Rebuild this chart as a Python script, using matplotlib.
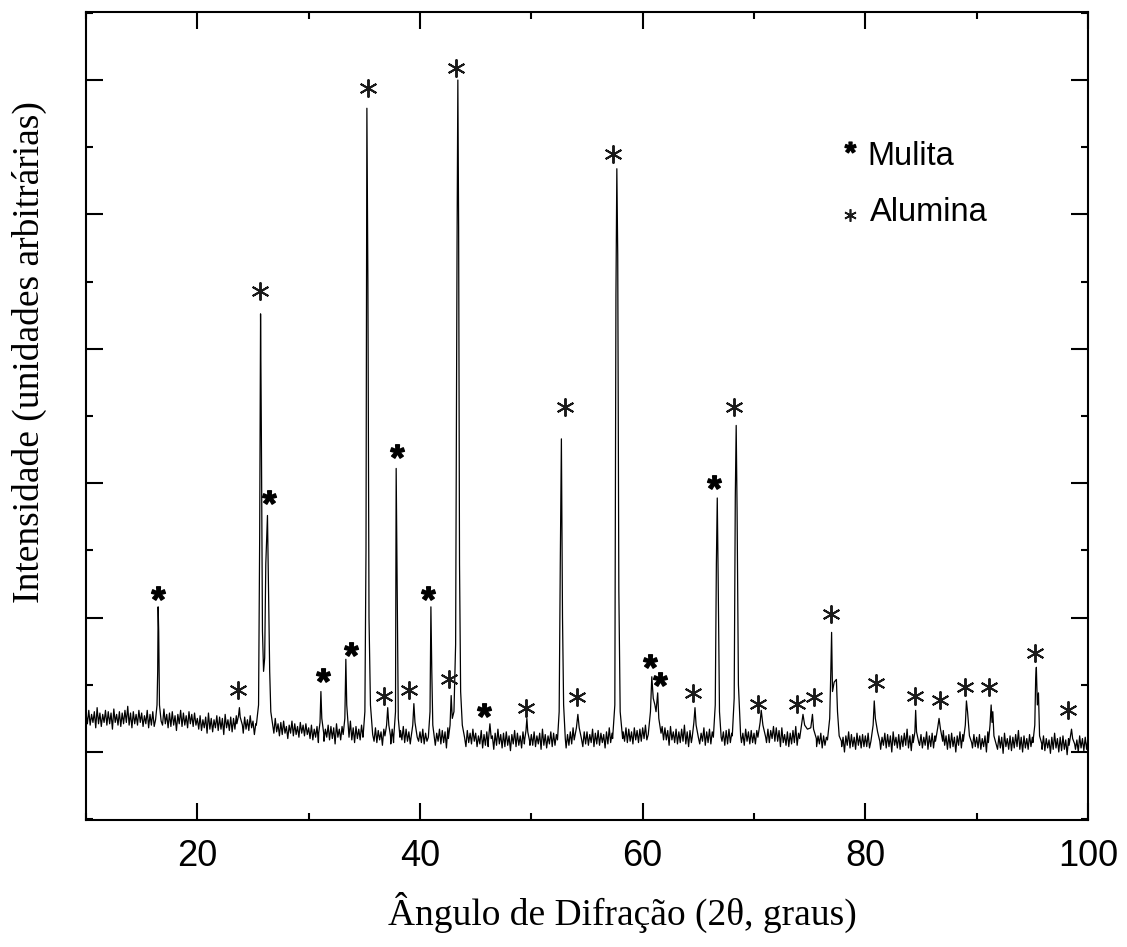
import numpy as np
import matplotlib
matplotlib.use("Agg")
import matplotlib.pyplot as plt
from matplotlib import font_manager
from matplotlib.ticker import MultipleLocator

# background counts, read as upper/lower envelope of the noise band
# upper points at 10.000 + 0.25*k, lower points at 10.125 + 0.25*k (2theta)
bg_upper = [
    .29, .31, .28, .30, .33, .29, .28, .31, .30, .29, .32, .28, .30, .29, .31, .34, .29, .30, .28, .31,
    .29, .27, .31, .28, .30, .28, .27, .29, .32, .28, .29, .30, .27, .28, .31, .29, .27, .30, .28, .29,
    .25, .27, .24, .26, .29, .25, .24, .27, .26, .25, .28, .24, .26, .25, .27, .30, .25, .26, .24, .27,
    .23, .21, .25, .22, .24, .22, .20, .22, .25, .21, .22, .23, .19, .20, .23, .21, .19, .22, .20, .21,
    .18, .20, .17, .19, .22, .18, .17, .20, .19, .18, .21, .17, .19, .18, .20, .23, .18, .19, .17, .20,
    .17, .15, .19, .16, .18, .16, .15, .17, .20, .16, .17, .18, .15, .16, .19, .17, .15, .18, .16, .17,
    .15, .17, .14, .16, .19, .15, .14, .17, .16, .15, .18, .14, .16, .15, .17, .20, .15, .16, .14, .17,
    .14, .12, .16, .13, .15, .13, .12, .14, .17, .13, .14, .15, .12, .13, .16, .14, .12, .15, .13, .14,
    .13, .15, .12, .14, .17, .13, .12, .15, .14, .13, .16, .12, .14, .13, .15, .18, .13, .14, .12, .15,
    .15, .13, .17, .14, .16, .14, .13, .15, .18, .14, .16, .17, .14, .15, .18, .17, .15, .18, .16, .17,
    .18, .20, .17, .19, .22, .18, .17, .19, .18, .16, .19, .15, .17, .15, .17, .20, .15, .16, .14, .17,
    .16, .14, .18, .15, .17, .15, .14, .16, .19, .15, .16, .17, .14, .15, .18, .16, .14, .17, .15, .16,
    .14, .16, .13, .15, .18, .17, .16, .19, .18, .16, .18, .13, .15, .14, .16, .19, .14, .15, .13, .16,
    .15, .14, .15, .12, .14, .12, .11, .13, .16, .12, .13, .14, .11, .12, .15, .13, .11, .14, .12, .13,
    .12, .14, .11, .13, .16, .12, .11, .14, .13, .12, .15, .11, .13, .12, .14, .17, .12, .13, .11, .14,
    .13, .11, .15, .12, .14, .12, .11, .13, .16, .12, .13, .14, .11, .12, .15, .13, .11, .14, .12, .13,
    .11, .13, .10, .12, .15, .11, .10, .13, .12, .11, .14, .10, .12, .11, .13, .16, .11, .12, .10, .13,
    .11, .09, .13, .10, .12, .10, .09, .11, .14, .10, .11, .12, .09, .10, .13, .11, .09, .12, .10, .11,
    .10,
]
bg_lower = [
    .21, .20, .22, .18, .21, .19, .22, .20, .21, .17, .22, .20, .19, .21, .22, .20, .18, .21, .20, .22,
    .19, .21, .18, .20, .19, .21, .17, .20, .21, .18, .19, .20, .16, .21, .19, .20, .18, .21, .19, .20,
    .17, .16, .18, .14, .17, .15, .18, .16, .17, .13, .18, .16, .15, .17, .18, .16, .14, .17, .16, .18,
    .13, .15, .12, .14, .13, .15, .11, .14, .15, .12, .13, .14, .10, .14, .12, .13, .11, .14, .12, .13,
    .10, .09, .11, .07, .10, .08, .11, .09, .10, .06, .11, .09, .08, .10, .11, .09, .07, .10, .09, .11,
    .07, .09, .06, .08, .07, .09, .05, .08, .09, .06, .07, .08, .04, .09, .07, .08, .06, .09, .07, .08,
    .07, .06, .08, .04, .07, .05, .08, .06, .07, .03, .08, .06, .05, .07, .08, .06, .04, .07, .06, .08,
    .04, .06, .03, .05, .04, .06, .02, .05, .06, .03, .04, .05, .01, .06, .04, .05, .03, .06, .04, .05,
    .05, .04, .06, .02, .05, .03, .06, .04, .05, .01, .06, .04, .03, .05, .06, .04, .02, .05, .04, .06,
    .05, .07, .04, .06, .05, .07, .03, .06, .07, .05, .06, .07, .04, .08, .07, .08, .06, .09, .07, .08,
    .10, .09, .11, .07, .10, .08, .11, .09, .09, .05, .09, .07, .06, .07, .08, .06, .04, .07, .06, .08,
    .06, .08, .05, .07, .06, .08, .04, .07, .08, .05, .06, .07, .03, .08, .06, .07, .05, .08, .06, .07,
    .06, .05, .07, .03, .07, .07, .10, .08, .08, .04, .07, .05, .04, .06, .07, .05, .03, .06, .05, .07,
    .05, .07, .04, .06, .03, .05, .01, .04, .05, .02, .03, .04, .00, .05, .03, .04, .02, .05, .03, .04,
    .04, .03, .05, .01, .04, .02, .05, .03, .04, .00, .05, .03, .02, .04, .05, .03, .01, .04, .03, .05,
    .03, .05, .02, .04, .03, .05, .01, .04, .05, .02, .03, .04, .00, .05, .03, .04, .02, .05, .03, .04,
    .03, .02, .04, .00, .03, .01, .04, .02, .03, -.01, .04, .02, .01, .03, .04, .02, .00, .03, .02, .04,
    .01, .03, .00, .02, .01, .03, -.01, .02, .03, .00, .01, .02, -.02, .03, .01, .02, .00, .03, .01, .02,
]

# reflection profiles: (2theta, intensity) vertices of each peak
peaks = [
    [(16.25, .24), (16.38, .35), (16.44, .60), (16.48, 1.08), (16.53, .90), (16.60, .35), (16.75, .23)],
    [(23.55, .21), (23.70, .27), (23.78, .33), (23.85, .26), (24.05, .20)],
    [(25.30, .20), (25.50, .35), (25.60, 1.60), (25.68, 3.26), (25.75, 2.40), (25.85, .90), (25.95, .60),
     (26.05, .70), (26.15, 1.40), (26.30, 1.76), (26.40, 1.20), (26.50, .60), (26.60, .30), (26.80, .18)],
    [(30.90, .14), (31.02, .22), (31.10, .45), (31.18, .25), (31.35, .14)],
    [(33.10, .13), (33.25, .25), (33.34, .69), (33.42, .35), (33.60, .14)],
    [(34.90, .13), (35.05, .30), (35.15, 1.50), (35.23, 4.79), (35.32, 3.50), (35.42, 1.00), (35.55, .35), (35.75, .13)],
    [(36.85, .12), (37.00, .20), (37.10, .33), (37.20, .20), (37.35, .12)],
    [(37.65, .12), (37.80, .30), (37.86, 2.11), (37.95, 1.20), (38.05, .25), (38.20, .11)],
    [(39.20, .11), (39.35, .20), (39.45, .36), (39.55, .22), (39.75, .11)],
    [(40.75, .11), (40.90, .30), (40.98, 1.08), (41.06, .60), (41.15, .20), (41.30, .10)],
    [(42.55, .10), (42.70, .20), (42.80, .42), (42.90, .25), (43.05, .30), (43.20, .80), (43.33, 3.80),
     (43.40, 5.00), (43.47, 3.90), (43.55, 1.40), (43.65, .45), (43.80, .20), (44.00, .11)],
    [(46.15, .09), (46.28, .21), (46.40, .10)],
    [(49.40, .09), (49.52, .16), (49.60, .25), (49.68, .15), (49.85, .08)],
    [(52.35, .09), (52.50, .30), (52.60, 1.40), (52.70, 2.33), (52.80, 1.00), (52.90, .35), (53.05, .10)],
    [(53.85, .09), (54.05, .18), (54.18, .28), (54.30, .18), (54.50, .10)],
    [(57.30, .10), (57.50, .35), (57.60, 3.40), (57.68, 4.34), (57.76, 3.70), (57.86, 1.20), (57.98, .30), (58.20, .10)],
    [(60.50, .13), (60.70, .30), (60.82, .56), (60.95, .40), (61.10, .35), (61.20, .30), (61.35, .44),
     (61.45, .25), (61.65, .14)],
    [(64.45, .11), (64.60, .22), (64.70, .33), (64.80, .20), (65.00, .11)],
    [(66.35, .11), (66.52, .35), (66.62, 1.40), (66.70, 1.89), (66.78, 1.30), (66.90, .30), (67.05, .11)],
    [(68.05, .12), (68.22, .40), (68.32, 1.90), (68.40, 2.43), (68.48, 1.80), (68.60, .50), (68.80, .12)],
    [(70.35, .11), (70.55, .22), (70.65, .31), (70.80, .20), (71.05, .11)],
    [(74.10, .10), (74.30, .22), (74.40, .28), (74.55, .20), (74.80, .17), (75.10, .18), (75.25, .28),
     (75.35, .17), (75.60, .10)],
    [(76.60, .09), (76.80, .25), (76.90, .60), (76.97, .89), (77.05, .45), (77.20, .52), (77.40, .54),
     (77.50, .30), (77.65, .12), (77.85, .08)],
    [(80.50, .08), (80.70, .20), (80.80, .38), (80.90, .25), (81.10, .15), (81.30, .08)],
    [(84.30, .07), (84.45, .15), (84.52, .31), (84.60, .15), (84.80, .07)],
    [(86.30, .08), (86.50, .18), (86.62, .25), (86.75, .17), (86.95, .08)],
    [(88.80, .08), (88.98, .20), (89.08, .38), (89.18, .30), (89.35, .12), (89.55, .07)],
    [(91.05, .07), (91.20, .20), (91.30, .35), (91.38, .22), (91.45, .30), (91.55, .12), (91.75, .06)],
    [(95.05, .07), (95.22, .20), (95.30, .55), (95.36, .63), (95.45, .35), (95.55, .44), (95.65, .12), (95.85, .06)],
    [(98.30, .05), (98.45, .13), (98.52, .17), (98.62, .10), (98.80, .06)],
]

# phase identification marks (position of each asterisk)
mulita_x = [16.47, 26.44, 31.29, 33.81, 37.94, 40.73, 45.76, 60.67, 61.57, 66.42]
mulita_y = [1.18, 1.90, 0.57, 0.77, 2.24, 1.18, 0.31, 0.68, 0.54, 2.01]
alumina_x = [23.66, 25.63, 35.34, 36.77, 39.02, 42.61, 43.24, 49.53, 53.04, 54.11, 57.35, 64.54,
             68.22, 70.38, 73.88, 75.41, 76.94, 80.98, 84.48, 86.73, 88.98, 91.13, 95.26, 98.23]
alumina_y = [0.46, 3.43, 4.94, 0.42, 0.46, 0.54, 5.09, 0.33, 2.57, 0.41, 4.45, 0.44,
             2.57, 0.36, 0.36, 0.41, 1.03, 0.51, 0.42, 0.39, 0.48, 0.48, 0.74, 0.31]

xtick_vals = [20, 40, 60, 80, 100]

# build the pattern: background everywhere except where a peak profile is given
x_up = 10.0 + 0.25 * np.arange(len(bg_upper))
x_lo = 10.125 + 0.25 * np.arange(len(bg_lower))
pts = list(zip(x_up, bg_upper)) + list(zip(x_lo, bg_lower))
for prof in peaks:
    lo, hi = prof[0][0], prof[-1][0]
    pts = [p for p in pts if p[0] < lo or p[0] > hi] + prof
pts.sort(key=lambda p: p[0])
angle = np.array([p[0] for p in pts])
counts = np.array([p[1] for p in pts])

names = {f.name for f in font_manager.fontManager.ttflist}
tick_font = "Liberation Sans Narrow" if "Liberation Sans Narrow" in names else "Liberation Sans"

plt.rcParams["mathtext.fontset"] = "custom"
plt.rcParams["mathtext.bf"] = "Liberation Sans:bold"

fig = plt.figure(figsize=(11.27, 9.47), dpi=100)
ax = fig.add_axes([0.0763, 0.1341, 0.8891, 0.8532])

ax.plot(angle, counts, color="black", lw=0.9)
ax.plot(mulita_x, mulita_y, ls="none", marker=r"$\mathbf{*}$", ms=10, color="black")
ax.plot(alumina_x, alumina_y, ls="none", marker=(6, 2, 0), ms=13, mew=1.4, color="#1a1a1a")

ax.set_xlim(10, 100)
ax.set_ylim(-0.506, 5.506)
ax.set_xticks(xtick_vals)
ax.xaxis.set_minor_locator(MultipleLocator(10))
ax.yaxis.set_major_locator(MultipleLocator(1))
ax.yaxis.set_minor_locator(MultipleLocator(0.5))
ax.tick_params(which="both", direction="in", top=True, right=True, width=1.5)
ax.tick_params(which="major", length=12)
ax.tick_params(which="minor", length=5)
ax.tick_params(axis="y", labelleft=False)
ax.tick_params(axis="x", labelsize=26, pad=14)
for lab in ax.get_xticklabels():
    lab.set_fontfamily(tick_font)
for sp in ax.spines.values():
    sp.set_linewidth(1.5)

ax.set_xlabel("Ângulo de Difração (2θ, graus)", family="Liberation Serif", fontsize=27, va="center")
ax.xaxis.set_label_coords(0.535, -0.114)
ax.set_ylabel("Intensidade (unidades arbitrárias)", family="Liberation Serif", fontsize=27, va="center")
ax.yaxis.set_label_coords(-0.056, 0.579)

# legend drawn by hand
ax.plot([0.7625], [0.8329], transform=ax.transAxes, ls="none", marker=r"$\mathbf{*}$", ms=8, color="black")
ax.plot([0.7625], [0.7490], transform=ax.transAxes, ls="none", marker=(6, 2, 0), ms=9, mew=1.2, color="#1a1a1a")
ax.text(0.7802, 0.8106, "Mulita", transform=ax.transAxes, family="Liberation Sans", fontsize=23.5, va="baseline")
ax.text(0.7822, 0.7416, "Alumina", transform=ax.transAxes, family="Liberation Sans", fontsize=23.5, va="baseline")

fig.savefig("out.png", dpi=100)
